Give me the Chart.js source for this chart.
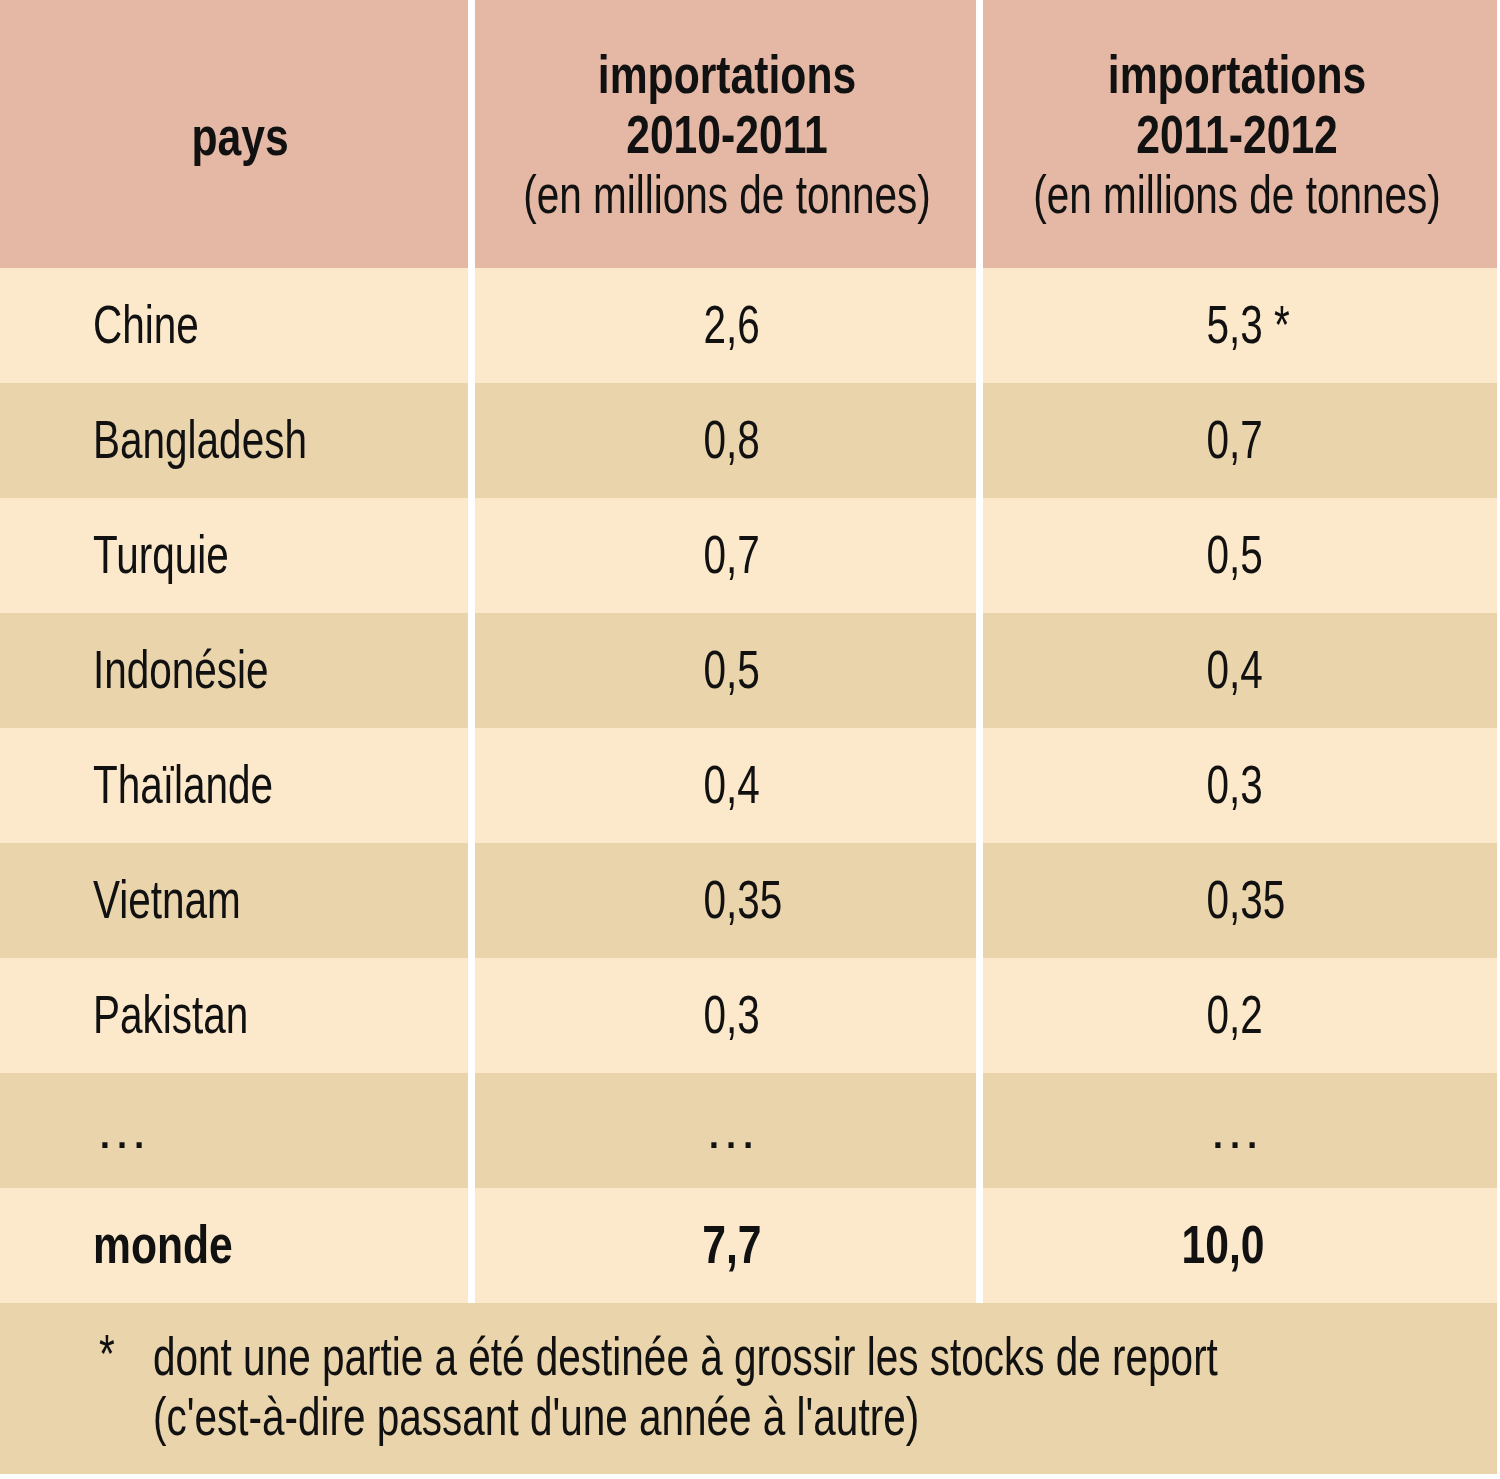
<!DOCTYPE html>
<html><head><meta charset="utf-8">
<script src="https://cdn.jsdelivr.net/npm/chart.js@4.4.1/dist/chart.umd.min.js"></script>
<style>html,body{margin:0;padding:0;background:#ffffff}canvas{display:block}</style>
</head><body>
<canvas id="c" width="1500" height="1479"></canvas>
<script>
// ---- data ----
const headerPays = ['pays'];
const header2010 = ['importations', '2010-2011', '(en millions de tonnes)'];
const header2011 = ['importations', '2011-2012', '(en millions de tonnes)'];
const countries = ['Chine', 'Bangladesh', 'Turquie', 'Indonésie', 'Thaïlande', 'Vietnam', 'Pakistan', '…', 'monde'];
const imports2010_2011 = [2.6, 0.8, 0.7, 0.5, 0.4, 0.35, 0.3, null, 7.7];
const imports2011_2012 = [5.3, 0.7, 0.5, 0.4, 0.3, 0.35, 0.2, null, 10.0];
const notes2011_2012 = ['*', '', '', '', '', '', '', '', ''];
const boldRows = ['monde'];
const footnoteMark = '*';
const footnoteLines = ['dont une partie a été destinée à grossir les stocks de report', "(c'est-à-dire passant d'une année à l'autre)"];

// ---- layout (in scale units) ----
const W = 1500, H = 1479;
const colSpans = [[0, 468], [475, 976], [983, 1497]];
const headerBottom = 268, rowHeight = 115, footBottom = 1474;
const colors = { header: '#e5b8a5', light: '#fce9cb', dark: '#ead4ac', text: '#111111' };
const FONT = '"Liberation Sans", Arial, sans-serif';
const SX_REG = 0.75, SX_BOLD = 0.79;

function fmt(v) {
  let s = String(v);
  if (!s.includes('.')) s += '.0';
  return s.replace('.', ',');
}

const tablePlugin = {
  id: 'tablePlugin',
  beforeDatasetsDraw(chart) {
    const ctx = chart.ctx, xs = chart.scales.x, ys = chart.scales.y;
    const X = v => xs.getPixelForValue(v), Y = v => ys.getPixelForValue(v);
    const rect = (x0, y0, x1, y1, c) => { ctx.fillStyle = c; ctx.fillRect(X(x0), Y(y0), X(x1) - X(x0), Y(y1) - Y(y0)); };
    const txt = (s, x, y, align, bold, size, sx) => {
      ctx.save();
      ctx.translate(X(x), Y(y));
      ctx.scale(sx === undefined ? (bold ? SX_BOLD : SX_REG) : sx, 1);
      ctx.font = (bold ? 'bold ' : '') + size + 'px ' + FONT;
      ctx.fillStyle = colors.text;
      ctx.textAlign = align;
      ctx.textBaseline = 'alphabetic';
      ctx.fillText(s, 0, 0);
      ctx.restore();
    };
    ctx.save();
    ctx.fillStyle = '#ffffff';
    ctx.fillRect(0, 0, chart.width, chart.height);
    // header
    colSpans.forEach(([a, b]) => rect(a, 0, b, headerBottom, colors.header));
    // body rows
    countries.forEach((name, i) => {
      const y0 = headerBottom + i * rowHeight, y1 = y0 + rowHeight;
      const c = i % 2 === 0 ? colors.light : colors.dark;
      colSpans.forEach(([a, b]) => rect(a, y0, b, y1, c));
    });
    const lastY = headerBottom + countries.length * rowHeight;
    rect(0, lastY, colSpans[2][1], footBottom, colors.dark);

    // header text
    txt(headerPays[0], 240, 155, 'center', true, 54);
    const hb = [93, 153, 213];
    header2010.forEach((s, k) => txt(s, 727, hb[k], 'center', k < 2, 54));
    header2011.forEach((s, k) => txt(s, 1237, hb[k], 'center', k < 2, 54));

    // body text
    const commaX = [726, 1229];
    countries.forEach((name, i) => {
      const yc = headerBottom + (i + 0.5) * rowHeight;
      const base = yc + 17;
      const bold = boldRows.includes(name);
      if (name === '…') {
        txt('…', 95, base, 'left', false, 54, 1);
        txt('…', 731, base, 'center', false, 54, 1);
        txt('…', 1235, base, 'center', false, 54, 1);
        return;
      }
      txt(name, 93, base, 'left', bold, 54);
      [[imports2010_2011[i], ''], [imports2011_2012[i], notes2011_2012[i]]].forEach(([v, n], k) => {
        if (v === null) return;
        const parts = fmt(v).split(',');
        txt(parts[0], commaX[k], base, 'right', bold, 54);
        txt(',' + parts[1] + (n ? ' ' + n : ''), commaX[k], base, 'left', bold, 54);
      });
    });

    // footnote
    txt(footnoteMark, 99, 1372, 'left', false, 54);
    footnoteLines.forEach((s, k) => txt(s, 153, 1375 + k * 60, 'left', false, 54));
    ctx.restore();
  }
};

new Chart(document.getElementById('c'), {
  type: 'scatter',
  data: { datasets: [] },
  options: {
    responsive: false,
    animation: false,
    devicePixelRatio: 1,
    layout: { padding: 0 },
    plugins: { legend: { display: false }, tooltip: { enabled: false } },
    scales: {
      x: { type: 'linear', min: 0, max: W, offset: false, display: false },
      y: { type: 'linear', min: 0, max: H, reverse: true, offset: false, display: false }
    }
  },
  plugins: [tablePlugin]
});
</script>
</body></html>
